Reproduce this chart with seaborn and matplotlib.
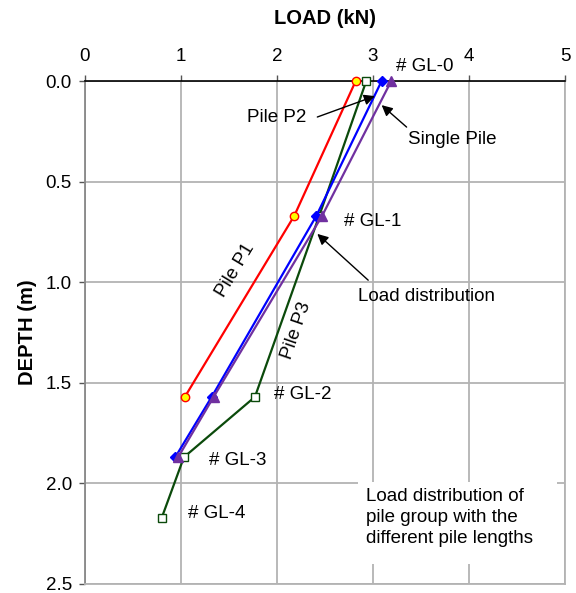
import matplotlib
matplotlib.use("Agg")
import matplotlib.pyplot as plt
import seaborn as sns
import pandas as pd
from matplotlib.patches import Rectangle

sns.set_style("white")
plt.rcParams['font.family'] = ['Liberation Sans', 'DejaVu Sans']
plt.rcParams['text.color'] = 'black'
plt.rcParams['axes.labelcolor'] = 'black'
plt.rcParams['xtick.color'] = 'black'
plt.rcParams['ytick.color'] = 'black'

# Data
p1_load = [2.82, 2.18, 1.04]
p1_depth = [0.0, 0.67, 1.57]
p3_load = [2.93, 2.44, 1.77, 1.03, 0.80]
p3_depth = [0.0, 0.67, 1.57, 1.87, 2.17]
p2_load = [3.09, 2.41, 1.32, 0.94]
p2_depth = [0.0, 0.67, 1.57, 1.87]
single_load = [3.19, 2.47, 1.34, 0.97]
single_depth = [0.0, 0.67, 1.57, 1.87]
gl_labels = ["# GL-0", "# GL-1", "# GL-2", "# GL-3", "# GL-4"]
x_ticks = [0, 1, 2, 3, 4, 5]
y_ticks = [0.0, 0.5, 1.0, 1.5, 2.0, 2.5]

FS = 13.5
fig = plt.figure(figsize=(5.76, 5.93), dpi=100)
ax = fig.add_axes([85/576, 1-584/593, 480/576, 503/593])

grid_c = "#b3b3b3"
series = [
    (p1_load, p1_depth, dict(color="red", marker="o", markerfacecolor="yellow",
                            markeredgecolor="red", markersize=6)),
    (p3_load, p3_depth, dict(color="#0b4a0b", marker="s", markerfacecolor="white",
                            markeredgecolor="#0b4a0b", markersize=6)),
    (p2_load, p2_depth, dict(color="blue", marker="D", markerfacecolor="blue",
                            markeredgecolor="blue", markersize=5)),
    (single_load, single_depth, dict(color="#7030a0", marker="^", markerfacecolor="#7030a0",
                                    markeredgecolor="#7030a0", markersize=7)),
]
for xs, ys, kw in series:
    df = pd.DataFrame({"load": xs, "depth": ys})
    sns.lineplot(data=df, x="load", y="depth", sort=False, estimator=None, ax=ax,
                 linewidth=1.6, markeredgewidth=1.0, zorder=3, clip_on=False, **kw)

ax.set_xlim(0, 5)
ax.set_ylim(2.5, 0)
ax.xaxis.tick_top()
ax.xaxis.set_label_position("top")
ax.set_xticks(x_ticks)
ax.set_xticklabels([str(t) for t in x_ticks])
ax.set_yticks(y_ticks)
ax.set_yticklabels([f"{t:.1f}" for t in y_ticks])
ax.tick_params(axis="both", labelsize=FS, length=4.5, width=1, color="#555555",
               direction="out", top=True, left=True, bottom=False, labelcolor="black")
ax.tick_params(axis="x", pad=7)
ax.tick_params(axis="y", pad=5)
ax.grid(True, color=grid_c, linewidth=1.3)
ax.set_axisbelow(True)
for s in ["left", "right", "bottom"]:
    ax.spines[s].set_color(grid_c)
    ax.spines[s].set_linewidth(1.3)
ax.spines["left"].set_color("#888888")
ax.spines["top"].set_color("black")
ax.spines["top"].set_linewidth(1.2)
ax.set_xlabel("LOAD (kN)", fontsize=14.5, fontweight="bold", labelpad=17)
ax.set_ylabel("DEPTH (m)", fontsize=14.5, fontweight="bold", labelpad=6)

# GL labels
gl_pos = [(3.24, -0.07), (2.70, 0.70), (1.97, 1.56), (1.29, 1.885), (1.07, 2.15)]
for lab, (x, y) in zip(gl_labels, gl_pos):
    ax.text(x, y, lab, fontsize=FS, ha="left", va="center", zorder=4)

# annotations
ap = dict(arrowstyle="-|>", color="black", lw=1.0, mutation_scale=16,
          shrinkA=0, shrinkB=0)
ax.text(2.31, 0.18, "Pile P2", fontsize=FS, ha="right", va="center")
ax.annotate("", xy=(3.02, 0.075), xytext=(2.42, 0.179), arrowprops=ap)
ax.text(3.36, 0.289, "Single Pile", fontsize=FS, ha="left", va="center")
ax.annotate("", xy=(3.09, 0.12), xytext=(3.35, 0.229), arrowprops=ap)
ax.text(2.84, 1.07, "Load distribution", fontsize=FS, ha="left", va="center")
ax.annotate("", xy=(2.42, 0.76), xytext=(2.95, 0.99), arrowprops=ap)
ax.text(1.57, 0.94, "Pile P1", fontsize=FS, rotation=59, ha="center", va="center")
ax.text(2.2, 1.24, "Pile P3", fontsize=FS, rotation=71, ha="center", va="center")

# text box
ax.add_patch(Rectangle((2.84, 1.995), 2.08, 0.405, facecolor="white",
                       edgecolor="none", zorder=2))
ax.text(2.93, 2.17, "Load distribution of\npile group with the\ndifferent pile lengths",
        fontsize=FS, ha="left", va="center", linespacing=1.32, zorder=4)

fig.savefig("out.png", dpi=100)
